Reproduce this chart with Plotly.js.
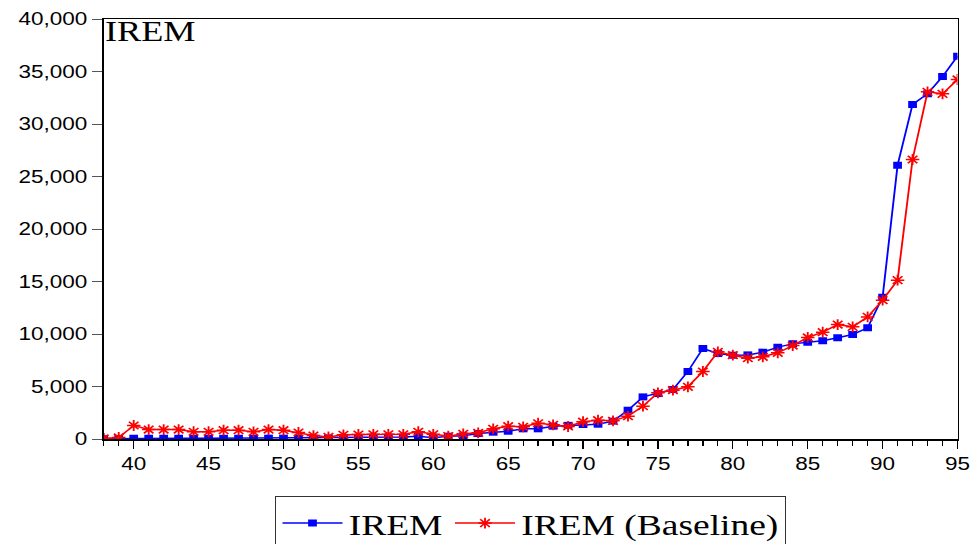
<!DOCTYPE html>
<html>
<head>
<meta charset="utf-8">
<script src="https://cdn.plot.ly/plotly-3.0.1.min.js"></script>
<style>
  html, body { margin: 0; padding: 0; overflow: hidden; background: #fff; }
  #wrap { width: 971px; height: 544px; overflow: hidden; }
  #chart { width: 777px; height: 544px; transform: scaleX(1.25); transform-origin: 0 0; }
</style>
</head>
<body>
<div id="wrap"><div id="chart"></div></div>
<script>
const years = [];
for (let y = 38; y <= 95; y++) years.push(y);

const irem = [30, 50, 60, 60, 60, 60, 60, 70, 70, 70,
  80, 80, 80, 80, 90, 100, 110, 110, 170, 180,
  180, 270, 110, 270, 300, 520, 650, 740, 970, 970,
  1220, 1300, 1380, 1410, 1700, 2740, 4010, 4330, 4710, 6430,
  8620, 8140, 7980, 8010, 8270, 8750, 9060, 9220, 9350, 9640,
  9950, 10590, 13510, 26080, 31860, 32870, 34520, 36460];

const iremBaseline = [50, 150, 1285, 900, 900, 900, 690, 690, 840, 840,
  680, 900, 840, 620, 330, 200, 400, 430, 450, 450,
  450, 690, 450, 270, 490, 590, 970, 1220, 1160, 1500,
  1350, 1190, 1650, 1790, 1730, 2170, 3130, 4400, 4650, 4970,
  6430, 8300, 7980, 7700, 7830, 8210, 8900, 9670, 10170, 10900,
  10680, 11630, 13220, 15130, 26620, 33060, 32870, 34240];

const seriesNames = ['IREM', 'IREM (Baseline)'];

const traces = [
  {
    x: years, y: irem, name: seriesNames[0], type: 'scatter', mode: 'lines+markers',
    line: {color: '#0000FF', width: 1.5},
    marker: {symbol: 'square', size: 7, color: '#0000FF'}
  },
  {
    x: years, y: iremBaseline, name: seriesNames[1], type: 'scatter', mode: 'lines+markers',
    line: {color: '#FF0000', width: 1.5},
    marker: {symbol: 'asterisk-open', size: 9, color: '#FF0000', line: {color: '#FF0000', width: 1.5}}
  }
];

const tickFont = {family: '"Liberation Sans", Arial, sans-serif', size: 18, color: '#000'};

const layout = {
  width: 777, height: 544,
  margin: {l: 83, r: 11, t: 19, b: 105, autoexpand: false},
  paper_bgcolor: '#fff', plot_bgcolor: '#fff',
  showlegend: true,
  title: {
    text: 'IREM',
    font: {family: '"Liberation Serif", "Times New Roman", serif', size: 29, color: '#000'},
    xref: 'paper', yref: 'paper', x: 0, y: 1, xanchor: 'left', yanchor: 'top',
    pad: {l: 1, t: 2, r: 0, b: 0}
  },
  xaxis: {
    range: [38, 95], tick0: 0, dtick: 5,
    showgrid: false, zeroline: false,
    showline: true, linecolor: '#000', linewidth: 1.5, mirror: true,
    ticks: 'outside', ticklen: 8, tickwidth: 1, tickcolor: '#000',
    minor: {dtick: 1, ticks: 'outside', ticklen: 5, tickcolor: '#000', tickwidth: 1, showgrid: false},
    tickfont: tickFont
  },
  yaxis: {
    range: [0, 40000], dtick: 5000, tickformat: ',d',
    showgrid: false, zeroline: false,
    showline: true, linecolor: '#000', linewidth: 1.5, mirror: true,
    ticks: 'outside', ticklen: 8, tickwidth: 1, tickcolor: '#555',
    tickfont: tickFont
  },
  legend: {
    orientation: 'h', x: 0.5, xanchor: 'center', y: -0.136, yanchor: 'top',
    bordercolor: '#333', borderwidth: 1, bgcolor: '#fff',
    font: {family: '"Liberation Serif", "Times New Roman", serif', size: 30, color: '#000'},
    itemwidth: 48
  }
};

Plotly.newPlot('chart', traces, layout, {displayModeBar: false, staticPlot: true});
</script>
</body>
</html>
